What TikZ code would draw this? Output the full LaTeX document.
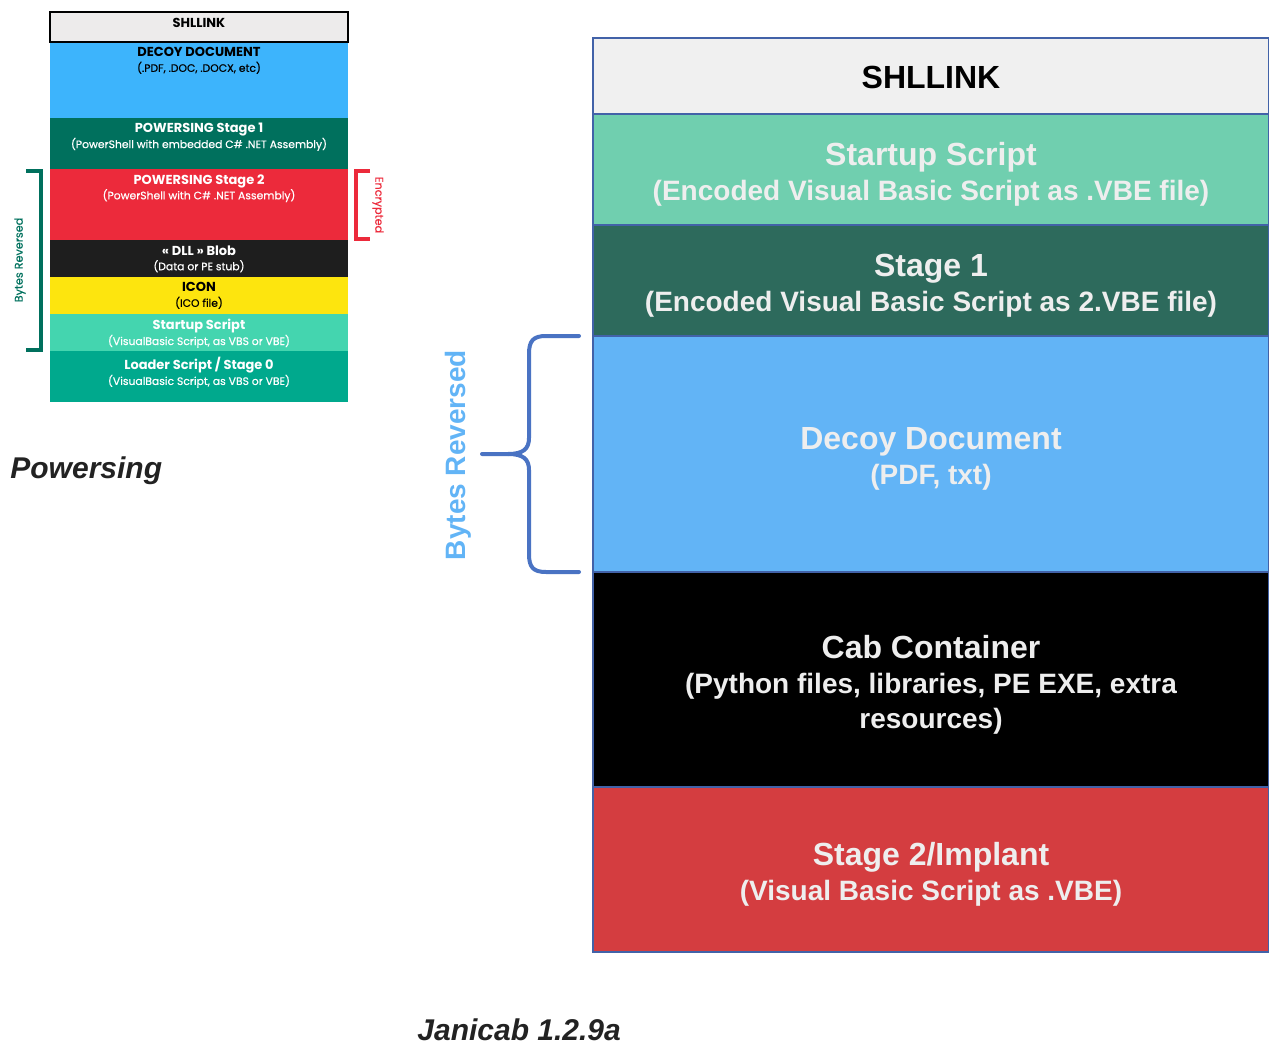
\documentclass[tikz,border=0pt]{standalone}
\usepackage{fontspec}
\setmainfont{Liberation Sans}
\newfontfamily\popfont{Poppins}
\newfontfamily\popmed[FakeBold=0.5]{Poppins}
\usepackage{xcolor}

\definecolor{pwGray}{HTML}{EDEBEB}
\definecolor{pwBlue}{HTML}{3DB4FC}
\definecolor{pwDark}{HTML}{00705D}
\definecolor{pwRed}{HTML}{EC2A3B}
\definecolor{pwBlack}{HTML}{1E1E1E}
\definecolor{pwYellow}{HTML}{FDE50E}
\definecolor{pwMint}{HTML}{44D5AF}
\definecolor{pwTeal}{HTML}{00A98D}
\definecolor{jcGray}{HTML}{F0F0F0}
\definecolor{jcMint}{HTML}{70CFAF}
\definecolor{jcDark}{HTML}{2D6A5C}
\definecolor{jcBlue}{HTML}{62B4F6}
\definecolor{jcRed}{HTML}{D43D40}
\definecolor{jcLine}{HTML}{4262A8}
\definecolor{jcBrace}{HTML}{4A73C3}
\definecolor{jcText}{HTML}{EEEEEE}
\definecolor{capGray}{HTML}{222222}

\newcommand\pwhead[1]{{\popfont\bfseries\fontsize{6.5}{8}\selectfont #1}}
\newcommand\jchead[1]{{\fontsize{16}{18}\selectfont #1}}

\begin{document}
\begin{tikzpicture}[x=0.5pt, y=-0.5pt,
  pwtext/.style={anchor=north, align=center, inner sep=0pt, font=\popmed\fontsize{5.4}{7.6}\selectfont},
  jclayer/.style={draw=jcLine, line width=0.8pt},
  jctext/.style={align=center, text=jcText, yshift=-2.5pt, font=\bfseries\fontsize{14}{17.5}\selectfont},
  caption/.style={anchor=base west, inner sep=0pt, text=capGray, font=\bfseries\itshape\fontsize{15}{18}\selectfont}]

\useasboundingbox (0,0) rectangle (1269,1044);

\def\pl{50}
\def\pr{348}
\def\jl{593}
\def\jr{1269}

% powersing layout
\fill[pwBlue]   (\pl,42)  rectangle (\pr,118);
\fill[pwDark]   (\pl,118) rectangle (\pr,169);
\fill[pwRed]    (\pl,169) rectangle (\pr,240);
\fill[pwBlack]  (\pl,240) rectangle (\pr,277);
\fill[pwYellow] (\pl,277) rectangle (\pr,314);
\fill[pwMint]   (\pl,314) rectangle (\pr,351);
\fill[pwTeal]   (\pl,351) rectangle (\pr,402);
\draw[black, line width=0.8pt, fill=pwGray] (\pl,12) rectangle (\pr,42);
\node[pwtext, text=black] (pwLink)   at (199,18)  {\pwhead{SHLLINK}};

\node[pwtext, text=black] (pwDecoy)  at (199,47)  {\pwhead{DECOY DOCUMENT}\\(.PDF, .DOC, .DOCX, etc)};
\node[pwtext, text=white] (pwStageA) at (199,123) {\pwhead{POWERSING Stage 1}\\(PowerShell with embedded C\# .NET Assembly)};
\node[pwtext, text=white] (pwStageB) at (199,174) {\pwhead{POWERSING Stage 2}\\(PowerShell with C\# .NET Assembly)};
\node[pwtext, text=white] (pwBlob)   at (199,245) {\pwhead{« DLL » Blob}\\(Data or PE stub)};
\node[pwtext, text=black] (pwIcon)   at (199,282) {\pwhead{ICON}\\(ICO file)};
\node[pwtext, text=white] (pwStart)  at (199,319) {\pwhead{Startup Script}\\(VisualBasic Script, as VBS or VBE)};
\node[pwtext, text=white] (pwLoader) at (199,357) {\pwhead{Loader Script / Stage 0}\\(VisualBasic Script, as VBS or VBE)};

% brackets
\draw[pwDark, line width=2pt, miter limit=4] (26,171) -- (41,171) -- (41,350) -- (26,350);
\node[rotate=90, text=pwDark, font=\popmed\fontsize{5.6}{6}\selectfont] (pwRev) at (20,260) {Bytes Reversed};
\draw[pwRed, line width=2pt] (370,171) -- (356,171) -- (356,239) -- (370,239);
\node[rotate=-90, text=pwRed, font=\popmed\fontsize{5.6}{6}\selectfont] (pwEnc) at (378,205) {Encrypted};

\node[caption] (capPw) at (10,478) {Powersing};

% janicab layout
\draw[jclayer, fill=jcGray] (\jl,38)  rectangle (\jr,114) node[pos=.5, yshift=-0.5pt, font=\bfseries\fontsize{16}{18}\selectfont] (jcLink) {SHLLINK};
\draw[jclayer, fill=jcMint] (\jl,114) rectangle (\jr,225) node[pos=.5, jctext] (jcStart) {\jchead{Startup Script}\\(Encoded Visual Basic Script as .VBE file)};
\draw[jclayer, fill=jcDark] (\jl,225) rectangle (\jr,336) node[pos=.5, jctext] (jcStage) {\jchead{Stage 1}\\(Encoded Visual Basic Script as 2.VBE file)};
\draw[jclayer, fill=jcBlue] (\jl,336) rectangle (\jr,572) node[pos=.5, jctext] (jcDecoy) {\jchead{Decoy Document}\\(PDF, txt)};
\draw[jclayer, fill=black]  (\jl,572) rectangle (\jr,787) node[pos=.5, jctext] (jcCab)   {\jchead{Cab Container}\\(Python files, libraries, PE EXE, extra\\resources)};
\draw[jclayer, fill=jcRed]  (\jl,787) rectangle (\jr,952) node[pos=.5, jctext] (jcImpl)  {\jchead{Stage 2/Implant}\\(Visual Basic Script as .VBE)};

% brace
\draw[jcBrace, line width=2pt, line cap=round]
  (579,336) -- (546,336) .. controls (533,336) and (529,341) .. (529,354) -- (529,438)
  .. controls (529,449) and (523,454) .. (508,454) -- (482,454);
\draw[jcBrace, line width=2pt, line cap=round]
  (508,454) .. controls (523,454) and (529,459) .. (529,470) -- (529,554)
  .. controls (529,567) and (533,572) .. (546,572) -- (579,572);
\node[rotate=90, text=jcBlue, font=\bfseries\fontsize{14}{16}\selectfont] (jcRev) at (458,455) {Bytes Reversed};

\node[caption] (capJc) at (417,1040) {Janicab 1.2.9a};

\end{tikzpicture}
\end{document}
